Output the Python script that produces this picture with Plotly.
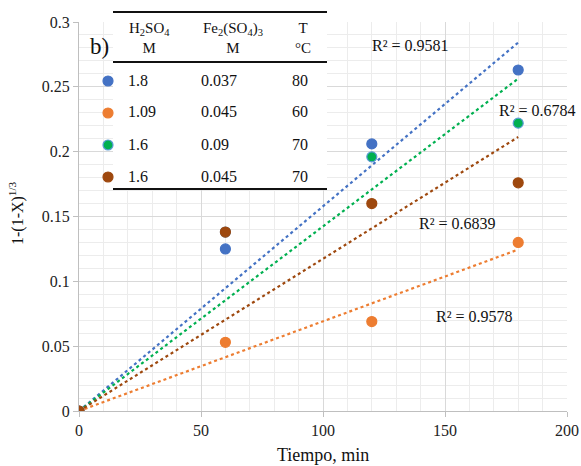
import numpy as np
import plotly.graph_objects as go

# Kinetic data: shrinking-core conversion function vs. time
tiempo = [0, 60, 120, 180]
series_names = ["1.8 / 0.037 / 80", "1.09 / 0.045 / 60", "1.6 / 0.09 / 70", "1.6 / 0.045 / 70"]
y_blue = [0, 0.125, 0.206, 0.263]
y_orange = [0, 0.053, 0.069, 0.130]
y_green = [0, 0.138, 0.196, 0.222]
y_brown = [0, 0.138, 0.160, 0.176]
r2_labels = ["R² = 0.9581", "R² = 0.9578", "R² = 0.6784", "R² = 0.6839"]

h2so4 = ["1.8", "1.09", "1.6", "1.6"]
fe2so43 = ["0.037", "0.045", "0.09", "0.045"]
temp = ["80", "60", "70", "70"]

x_title = "Tiempo, min"
y_title = "1-(1-X)<sup>1/3</sup>"

fill_colors = ["#4472C4", "#ED7D31", "#00B050", "#9E480E"]
edge_colors = ["#4472C4", "#ED7D31", "#5B9BD5", "#9E480E"]
line_colors = ["#4472C4", "#ED7D31", "#00B050", "#9E480E"]

all_y = [y_blue, y_orange, y_green, y_brown]
FONT = "Times New Roman, Liberation Serif, serif"

fig = go.Figure()

# Linear trendlines forced through the origin
x_arr = np.array(tiempo, dtype=float)
for ys, col in zip(all_y, line_colors):
    y_arr = np.array(ys, dtype=float)
    slope = (x_arr * y_arr).sum() / (x_arr ** 2).sum()
    fig.add_trace(go.Scatter(
        x=[0, 180], y=[0, slope * 180], mode="lines",
        line=dict(color=col, width=2.2, dash="dot"),
        showlegend=False, hoverinfo="skip"))

for name, ys, fc, ec in zip(series_names, all_y, fill_colors, edge_colors):
    fig.add_trace(go.Scatter(
        x=tiempo, y=ys, mode="markers", name=name,
        marker=dict(size=10, color=fc, line=dict(color=ec, width=1.2)),
        showlegend=False))

# R² annotations (data coordinates)
r2_pos = [(136, 0.282), (162, 0.0725), (188, 0.232), (155, 0.1445)]
for txt, (xx, yy) in zip(r2_labels, r2_pos):
    fig.add_annotation(x=xx, y=yy, text=txt, showarrow=False,
                       xanchor="center", yanchor="middle",
                       font=dict(family=FONT, size=16, color="#111"))

# Pixel -> paper helpers for the fixed plot area
L, R, T, B = 79, 567, 22, 411
def px(xp):
    return (xp - L) / (R - L)
def py(yp):
    return (B - yp) / (B - T)

# Axis titles
fig.add_annotation(xref="paper", yref="paper", x=px(323), y=py(466), text=x_title,
                   showarrow=False, xanchor="center", yanchor="bottom", borderpad=0,
                   font=dict(family=FONT, size=18, color="#111"))
fig.add_annotation(xref="paper", yref="paper", x=px(16), y=py(213), text=y_title,
                   showarrow=False, xanchor="center", yanchor="middle", textangle=-90,
                   font=dict(family=FONT, size=16, color="#111"))

# Table-style legend
fig.add_shape(type="rect", xref="x", yref="y", x0=(113 - L) / 2.44, x1=(327 - L) / 2.44,
              y0=0.171, y1=0.31, fillcolor="white", line=dict(width=0), layer="between")
for yl in [12, 62, 189]:
    fig.add_shape(type="line", xref="paper", yref="paper", x0=px(113), x1=px(327),
                  y0=py(yl), y1=py(yl), line=dict(color="#111", width=2), layer="above")

hdr = [("H<sub>2</sub>SO<sub>4</sub><br>M", 149),
       ("Fe<sub>2</sub>(SO<sub>4</sub>)<sub>3</sub><br>M", 233),
       ("T<br>°C", 303)]
for txt, xc in hdr:
    fig.add_annotation(xref="paper", yref="paper", x=px(xc), y=py(38), text=txt,
                       showarrow=False, align="center", xanchor="center", yanchor="middle",
                       font=dict(family=FONT, size=15, color="#111"))
fig.add_annotation(xref="paper", yref="paper", x=px(99), y=py(47), text="b)",
                   showarrow=False, xanchor="center", yanchor="middle",
                   font=dict(family=FONT, size=23, color="#111"))

row_y = [80, 112, 144, 176]
for i, ry in enumerate(row_y):
    fig.add_annotation(xref="paper", yref="paper", x=px(126), y=py(ry), text=h2so4[i],
                       xanchor="left", yanchor="middle", showarrow=False,
                       font=dict(family=FONT, size=16, color="#111"))
    fig.add_annotation(xref="paper", yref="paper", x=px(199), y=py(ry), text=fe2so43[i],
                       xanchor="left", yanchor="middle", showarrow=False,
                       font=dict(family=FONT, size=16, color="#111"))
    fig.add_annotation(xref="paper", yref="paper", x=px(300), y=py(ry), text=temp[i],
                       xanchor="center", yanchor="middle", showarrow=False,
                       font=dict(family=FONT, size=16, color="#111"))
    fig.add_shape(type="circle", xref="paper", yref="paper",
                  x0=px(103), x1=px(113), y0=py(ry + 6), y1=py(ry - 4),
                  fillcolor=fill_colors[i], line=dict(color=edge_colors[i], width=1.2), layer="above")

fig.update_layout(
    width=581, height=466, autosize=False,
    margin=dict(l=L, r=581 - R, t=T, b=466 - B, pad=0, autoexpand=False),
    paper_bgcolor="white", plot_bgcolor="white",
    font=dict(family=FONT, size=16, color="#222"),
)
fig.update_xaxes(
    range=[0, 200], dtick=50, showgrid=True, gridcolor="#d9d9d9", gridwidth=1,
    minor=dict(dtick=10, showgrid=True, gridcolor="#ececec"),
    showline=True, linecolor="#bfbfbf", linewidth=1, automargin=False,
    ticks="outside", ticklen=5, tickcolor="#bfbfbf", zeroline=False,
    tickfont=dict(family=FONT, size=16, color="#222"),
)
fig.update_yaxes(
    range=[0, 0.3], dtick=0.05, showgrid=True, gridcolor="#d9d9d9", gridwidth=1,
    minor=dict(dtick=0.01, showgrid=True, gridcolor="#ececec"),
    showline=True, linecolor="#bfbfbf", linewidth=1, automargin=False,
    ticks="outside", ticklen=5, tickcolor="#bfbfbf", zeroline=False,
    tickformat="~g",
    tickfont=dict(family=FONT, size=16, color="#222"),
)

fig.write_html("out.html", config={"responsive": False})
